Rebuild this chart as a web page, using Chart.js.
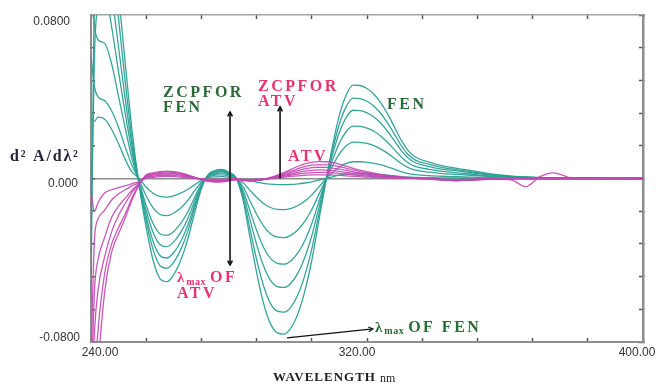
<!DOCTYPE html>
<html>
<head>
<meta charset="utf-8">
<script src="https://cdn.jsdelivr.net/npm/chart.js@4.4.1/dist/chart.umd.min.js"></script>
<style>
  body { margin: 0; background: #fff; }
  canvas { display: block; }
</style>
</head>
<body>
<canvas id="myChart" width="660" height="384"></canvas>
<script>
// wavelength (nm) shared by every spectrum
const wavelengths = [240, 241, 242, 244, 246, 248, 250, 252, 254, 256, 258, 260, 262, 264, 266, 268, 270, 272,
  274, 276, 278, 280, 282, 284, 286, 288, 290, 292, 294, 296, 298, 300, 302, 304, 306, 308, 310, 312, 314, 316,
  318, 320, 322, 324, 326, 328, 330, 332, 334, 338, 342, 346, 350, 356, 362, 366, 370, 374, 380, 390, 400];

// FEN second derivative spectra (teal)
const fen1 = [0.110, 0.150, 0.160, 0.150, 0.125, 0.090, 0.055, 0.022, -0.004,
  -0.024, -0.040, -0.049, -0.0505, -0.047, -0.040, -0.030, -0.017, -0.005,
  0.002, 0.004, 0.0045, 0.003, 0.0005,
  -0.010, -0.028, -0.046, -0.061, -0.071, -0.0755, -0.0761, -0.073, -0.066, -0.055, -0.040, -0.021, -0.002,
  0.016, 0.031, 0.041, 0.0457, 0.0455, 0.0440, 0.0412, 0.0370, 0.0315, 0.0250, 0.0185, 0.0135, 0.0105,
  0.0080, 0.0062, 0.0050, 0.0040, 0.0022, 0.0012, 0.0008, 0.0005, 0.0003, 0.0002, 0.0001, 0];
const fen2 = [-0.060, 0.100, 0.140, 0.135, 0.110, 0.078, 0.046, 0.018, -0.003,
  -0.0209, -0.0348, -0.0426, -0.0439, -0.0409, -0.0348, -0.0261, -0.0148, -0.0044,
  0.0018, 0.0036, 0.0040, 0.0027, 0.0004,
  -0.0086, -0.0241, -0.0396, -0.0525, -0.0611, -0.0649, -0.0654, -0.0628, -0.0568, -0.0473, -0.0344, -0.0181, -0.0017,
  0.0138, 0.0267, 0.0353, 0.0393, 0.0391, 0.0378, 0.0354, 0.0318, 0.0271, 0.0215, 0.0159, 0.0116, 0.0090,
  0.0069, 0.0053, 0.0043, 0.0034, 0.0019, 0.0010, 0.0007, 0.0004, 0.0003, 0.0002, 0.0001, 0];
const fen3 = [0.090, 0.120, 0.120, 0.110, 0.090, 0.064, 0.038, 0.015, -0.003,
  -0.0185, -0.0308, -0.0377, -0.0389, -0.0362, -0.0308, -0.0231, -0.0131, -0.0039,
  0.0016, 0.0032, 0.0036, 0.0024, 0.0004,
  -0.0070, -0.0196, -0.0322, -0.0427, -0.0497, -0.0529, -0.0533, -0.0511, -0.0462, -0.0385, -0.0280, -0.0147, -0.0014,
  0.0117, 0.0226, 0.0299, 0.0334, 0.0332, 0.0321, 0.0301, 0.0270, 0.0230, 0.0183, 0.0135, 0.0099, 0.0077,
  0.0058, 0.0045, 0.0037, 0.0029, 0.0016, 0.0009, 0.0006, 0.0004, 0.0002, 0.0001, 0.0001, 0];
const fen4 = [-0.030, 0.060, 0.085, 0.090, 0.074, 0.052, 0.031, 0.012, -0.002,
  -0.0158, -0.0264, -0.0323, -0.0333, -0.0310, -0.0264, -0.0198, -0.0112, -0.0033,
  0.0014, 0.0028, 0.0032, 0.0021, 0.0003,
  -0.0055, -0.0154, -0.0253, -0.0336, -0.0391, -0.0415, -0.0419, -0.0402, -0.0363, -0.0303, -0.0220, -0.0116, -0.0011,
  0.0090, 0.0174, 0.0230, 0.0256, 0.0255, 0.0246, 0.0231, 0.0207, 0.0176, 0.0140, 0.0104, 0.0076, 0.0059,
  0.0045, 0.0035, 0.0028, 0.0022, 0.0012, 0.0007, 0.0004, 0.0003, 0.0002, 0.0001, 0.0001, 0];
const fen5 = [0.100, 0.075, 0.068, 0.066, 0.056, 0.040, 0.024, 0.009, -0.002,
  -0.0132, -0.0220, -0.0270, -0.0278, -0.0259, -0.0220, -0.0165, -0.0094, -0.0028,
  0.0011, 0.0022, 0.0026, 0.0017, 0.0003,
  -0.0038, -0.0106, -0.0175, -0.0232, -0.0270, -0.0287, -0.0289, -0.0277, -0.0251, -0.0209, -0.0152, -0.0080, -0.0008,
  0.0062, 0.0121, 0.0160, 0.0178, 0.0177, 0.0172, 0.0161, 0.0144, 0.0123, 0.0098, 0.0072, 0.0053, 0.0041,
  0.0031, 0.0024, 0.0020, 0.0016, 0.0009, 0.0005, 0.0003, 0.0002, 0.0001, 0.0001, 0, 0];
const fen6 = [0.060, 0.045, 0.040, 0.038, 0.033, 0.025, 0.015, 0.006, -0.001,
  -0.0086, -0.0144, -0.0176, -0.0182, -0.0169, -0.0144, -0.0108, -0.0061, -0.0018,
  0.0008, 0.0016, 0.0018, 0.0012, 0.0002,
  -0.0020, -0.0056, -0.0092, -0.0122, -0.0142, -0.0151, -0.0152, -0.0146, -0.0132, -0.0110, -0.0080, -0.0042, -0.0004,
  0.0029, 0.0056, 0.0074, 0.0082, 0.0082, 0.0079, 0.0074, 0.0067, 0.0057, 0.0045, 0.0033, 0.0024, 0.0019,
  0.0014, 0.0011, 0.0009, 0.0007, 0.0004, 0.0002, 0.0001, 0.0001, 0, 0, 0, 0];
const fen7 = [0.030, 0.028, 0.030, 0.029, 0.024, 0.017, 0.009, 0.003, 0.000,
  -0.0043, -0.0072, -0.0088, -0.0091, -0.0085, -0.0072, -0.0054, -0.0031, -0.0009,
  0.0004, 0.0008, 0.0009, 0.0006, 0.0001,
  -0.0004, -0.0011, -0.0018, -0.0024, -0.0028, -0.0030, -0.0030, -0.0029, -0.0026, -0.0022, -0.0016, -0.0008, -0.0001,
  0.0008, 0.0016, 0.0021, 0.0023, 0.0023, 0.0022, 0.0021, 0.0019, 0.0016, 0.0013, 0.0009, 0.0007, 0.0005,
  0.0004, 0.0003, 0.0003, 0.0002, 0.0001, 0.0001, 0, 0, 0, 0, 0, 0];

// ATV second derivative spectra (magenta)
const atv1 = [-0.006, -0.016, -0.012, -0.007, -0.0055, -0.0045, -0.0035, -0.0025, -0.0015,
  0.0002, 0.0006, 0.0009, 0.0010, 0.0009, 0.0007, 0.0004, 0.0001, -0.0002, -0.0004, -0.0005, -0.0004, -0.0003, -0.0001,
  -0.0005, -0.0006, -0.0005, -0.0002, 0.0000, 0.0004, 0.0007, 0.0010, 0.0013, 0.0016, 0.0018, 0.0018, 0.0018,
  0.0017, 0.0015, 0.0013, 0.0011, 0.0009, 0.0007, 0.0006, 0.0004, 0.0003, 0.0002, 0.0002, 0.0001, 0.0001,
  -0.0001, -0.0004, -0.0006, -0.0004, -0.0001, 0, 0, 0, 0, 0, 0, 0];
const atv2 = [-0.090, -0.030, -0.020, -0.0155, -0.0105, -0.0075, -0.0055, -0.0035, -0.002,
  0.0006, 0.0011, 0.0015, 0.0016, 0.0015, 0.0012, 0.0008, 0.0002, -0.0002, -0.0006, -0.0008, -0.0007, -0.0005, -0.0002,
  -0.0006, -0.0008, -0.0006, -0.0003, 0.0001, 0.0006, 0.0011, 0.0016, 0.0022, 0.0026, 0.0029, 0.0030, 0.0030,
  0.0028, 0.0025, 0.0022, 0.0018, 0.0015, 0.0012, 0.0009, 0.0007, 0.0005, 0.0004, 0.0003, 0.0002, 0.0001,
  -0.0002, -0.0006, -0.0008, -0.0005, -0.0002, 0, 0, 0, 0, 0, 0, 0];
const atv3 = [-0.110, -0.055, -0.040, -0.0286, -0.019, -0.0135, -0.0095, -0.0055, -0.0025,
  0.0009, 0.0016, 0.0020, 0.0022, 0.0021, 0.0017, 0.0011, 0.0003, -0.0003, -0.0008, -0.0010, -0.0009, -0.0006, -0.0003,
  -0.0007, -0.0009, -0.0007, -0.0004, 0.0001, 0.0008, 0.0015, 0.0022, 0.0030, 0.0036, 0.0040, 0.0042, 0.0041,
  0.0039, 0.0035, 0.0030, 0.0025, 0.0021, 0.0017, 0.0013, 0.0010, 0.0008, 0.0006, 0.0004, 0.0002, 0.0001,
  -0.0003, -0.0008, -0.0010, -0.0006, -0.0002, -0.0008, -0.0040, 0.0008, 0.0028, 0.0001, 0, 0];
const atv4 = [-0.120, -0.075, -0.055, -0.038, -0.026, -0.018, -0.012, -0.0065, -0.0025,
  0.0012, 0.0020, 0.0025, 0.0027, 0.0025, 0.0021, 0.0013, 0.0004, -0.0004, -0.0010, -0.0013, -0.0012, -0.0008, -0.0004,
  -0.0008, -0.0010, -0.0008, -0.0004, 0.0002, 0.0010, 0.0019, 0.0029, 0.0039, 0.0047, 0.0053, 0.0055, 0.0054,
  0.0051, 0.0046, 0.0040, 0.0033, 0.0027, 0.0022, 0.0017, 0.0013, 0.0010, 0.0007, 0.0005, 0.0003, 0.0002,
  -0.0002, -0.0007, -0.0011, -0.0008, -0.0004, -0.0001, 0, 0, 0, 0, 0, 0];
const atv5 = [-0.130, -0.100, -0.075, -0.046, -0.032, -0.024, -0.017, -0.009, -0.003,
  0.0015, 0.0024, 0.0030, 0.0032, 0.0030, 0.0025, 0.0016, 0.0005, -0.0005, -0.0012, -0.0015, -0.0014, -0.0010, -0.0005,
  -0.0009, -0.0011, -0.0009, -0.0005, 0.0003, 0.0013, 0.0024, 0.0036, 0.0048, 0.0058, 0.0065, 0.0068, 0.0067,
  0.0064, 0.0058, 0.0050, 0.0042, 0.0034, 0.0027, 0.0021, 0.0016, 0.0012, 0.0009, 0.0006, 0.0004, 0.0002,
  -0.0001, -0.0006, -0.0010, -0.0007, -0.0003, -0.0001, 0, 0, 0, 0, 0, 0];
const atv6 = [-0.150, -0.130, -0.095, -0.055, -0.036, -0.027, -0.019, -0.010, -0.003,
  0.0018, 0.0028, 0.0034, 0.0036, 0.0034, 0.0028, 0.0018, 0.0006, -0.0006, -0.0014, -0.0018, -0.0017, -0.0012, -0.0006,
  -0.0010, -0.0012, -0.0010, -0.0005, 0.0005, 0.0017, 0.0030, 0.0045, 0.0060, 0.0072, 0.0080, 0.0083, 0.0082,
  0.0078, 0.0070, 0.0060, 0.0050, 0.0041, 0.0033, 0.0026, 0.0020, 0.0015, 0.0011, 0.0008, 0.0005, 0.0003,
  0, -0.0005, -0.0009, -0.0006, -0.0002, 0, 0, 0, 0, 0, 0, 0];

const xTickValues = [240, 320, 400];
const xTickLabels = ['240.00', '320.00', '400.00'];
const yTickValues = [0.08, 0, -0.08];
const yTickLabels = ['0.0800', '0.000', '-0.0800'];

const fenSeries = [fen1, fen2, fen3, fen4, fen5, fen6, fen7];
const atvSeries = [atv1, atv2, atv3, atv4, atv5, atv6];

function toPoints(values) {
  return wavelengths.map((w, i) => ({ x: w, y: values[i] }));
}

function lineSet(label, values, color) {
  return {
    label: label,
    data: toPoints(values),
    borderColor: color,
    borderWidth: 1.3,
    pointRadius: 0,
    fill: false,
    cubicInterpolationMode: 'monotone'
  };
}

const datasets = [];
atvSeries.forEach((s, i) => datasets.push(lineSet('ATV ' + (i + 1), s, 'rgba(196, 70, 180, 0.9)')));
fenSeries.forEach((s, i) => datasets.push(lineSet('FEN ' + (i + 1), s, 'rgba(42, 160, 150, 0.95)')));

const SERIF = "'Liberation Serif', 'DejaVu Serif', serif";
const SANS = "'Liberation Sans', Arial, sans-serif";

function arrowHead(ctx, x, y, angle) {
  const s = 5;
  ctx.beginPath();
  ctx.moveTo(x - s * Math.cos(angle - 0.5), y - s * Math.sin(angle - 0.5));
  ctx.lineTo(x, y);
  ctx.lineTo(x - s * Math.cos(angle + 0.5), y - s * Math.sin(angle + 0.5));
  ctx.stroke();
}

function arrow(ctx, x1, y1, x2, y2, both) {
  ctx.beginPath();
  ctx.moveTo(x1, y1);
  ctx.lineTo(x2, y2);
  ctx.stroke();
  const a = Math.atan2(y2 - y1, x2 - x1);
  arrowHead(ctx, x2, y2, a);
  if (both) arrowHead(ctx, x1, y1, a + Math.PI);
}

function spaced(ctx, text, x, y, font, color, spacing) {
  ctx.font = font;
  ctx.fillStyle = color;
  ctx.letterSpacing = spacing + 'px';
  ctx.fillText(text, x, y);
  const w = ctx.measureText(text).width;
  ctx.letterSpacing = '0px';
  return w;
}

function lambdaMax(ctx, x, y, rest, color) {
  let cx = x;
  cx += spaced(ctx, 'λ', cx, y, 'bold 15px ' + SERIF, color, 0) + 2;
  cx += spaced(ctx, 'max', cx, y + 4, 'bold 10px ' + SERIF, color, 0.5) + 4;
  spaced(ctx, rest, cx, y, 'bold 16px ' + SERIF, color, 2.5);
}

const annotations = {
  id: 'annotations',
  afterDraw(chart) {
    const ctx = chart.ctx;
    const xs = chart.scales.x;
    const ys = chart.scales.y;
    const px = v => xs.getPixelForValue(v);
    const py = v => ys.getPixelForValue(v);
    const green = '#2b6b38';
    const pink = '#e8336f';

    ctx.save();
    ctx.textBaseline = 'middle';

    // tick labels
    ctx.font = '12px ' + SANS;
    ctx.fillStyle = '#333';
    ctx.textAlign = 'center';
    const xOff = [9, -10, -6];
    xTickValues.forEach((v, i) => ctx.fillText(xTickLabels[i], px(v) + xOff[i], 353));
    ctx.textAlign = 'right';
    const yRight = [70, 78, 80];
    const yOff = [7, 5, -4];
    yTickValues.forEach((v, i) => ctx.fillText(yTickLabels[i], yRight[i], py(v) + yOff[i]));

    // axis titles
    ctx.textAlign = 'left';
    spaced(ctx, 'd² A/dλ²', 10, 157, 'bold 16px ' + SERIF, '#24243e', 1.8);
    const w = spaced(ctx, 'WAVELENGTH', 273, 378, 'bold 13px ' + SERIF, '#1e1e1e', 1);
    spaced(ctx, 'nm', 273 + w + 4, 379, '12px ' + SERIF, '#1e1e1e', 0);

    // arrows
    ctx.strokeStyle = '#111';
    ctx.lineWidth = 1.6;
    arrow(ctx, px(280.3), py(-0.0423), px(280.3), py(0.0325), true);
    arrow(ctx, px(294.8), py(0), px(294.8), py(0.035), false);
    ctx.lineWidth = 1.2;
    arrow(ctx, px(296.8), py(-0.078), px(321.7), py(-0.0736), false);

    // labels
    spaced(ctx, 'ZCPFOR', px(260.9), py(0.0418), 'bold 16px ' + SERIF, green, 2.5);
    spaced(ctx, 'FEN', px(260.9), py(0.0345), 'bold 16px ' + SERIF, green, 2.5);
    spaced(ctx, 'ZCPFOR', px(288.4), py(0.0447), 'bold 16px ' + SERIF, pink, 2.5);
    spaced(ctx, 'ATV', px(288.4), py(0.0374), 'bold 16px ' + SERIF, pink, 2.5);
    spaced(ctx, 'ATV', px(297.1), py(0.0105), 'bold 16px ' + SERIF, pink, 2.5);
    spaced(ctx, 'FEN', px(325.8), py(0.0359), 'bold 16px ' + SERIF, green, 2.5);
    lambdaMax(ctx, px(264.9), py(-0.0487), 'OF', pink);
    spaced(ctx, 'ATV', px(264.9), py(-0.0565), 'bold 16px ' + SERIF, pink, 2.5);
    lambdaMax(ctx, px(322.3), py(-0.0731), 'OF FEN', green);

    ctx.restore();
  }
};

const tickGrid = { drawOnChartArea: false, tickLength: -4, tickColor: '#555', tickWidth: 1.5 };

const config = {
  type: 'line',
  data: { datasets: datasets },
  options: {
    responsive: false,
    animation: false,
    devicePixelRatio: 1,
    layout: { padding: 0 },
    plugins: { legend: { display: false }, tooltip: { enabled: false } },
    scales: {
      x: {
        type: 'linear', position: 'bottom', min: 240, max: 400,
        ticks: { display: false, stepSize: 16 },
        grid: tickGrid,
        border: { color: '#8e8e8e', width: 2 },
        afterFit: s => { s.height = 42; }
      },
      xTop: {
        type: 'linear', position: 'top', min: 240, max: 400,
        ticks: { display: false, stepSize: 16 },
        grid: tickGrid,
        border: { color: '#a5a5a5', width: 1.5 },
        afterFit: s => { s.height = 15; }
      },
      y: {
        type: 'linear', position: 'left', min: -0.08, max: 0.08,
        ticks: { display: false, stepSize: 0.016 },
        grid: {
          drawOnChartArea: true,
          color: ctx => Math.abs(ctx.tick.value) < 1e-9 ? '#8e8e8e' : 'rgba(0,0,0,0)',
          lineWidth: 1.5,
          tickLength: -4, tickColor: '#555', tickWidth: 1.5
        },
        border: { color: '#8e8e8e', width: 2 },
        afterFit: s => { s.width = 91; }
      },
      yRight: {
        type: 'linear', position: 'right', min: -0.08, max: 0.08,
        ticks: { display: false, stepSize: 0.016 },
        grid: tickGrid,
        border: { color: '#8e8e8e', width: 2.5 },
        afterFit: s => { s.width = 17; }
      }
    }
  },
  plugins: [annotations]
};

const myChart = new Chart(document.getElementById('myChart'), config);
</script>
</body>
</html>
